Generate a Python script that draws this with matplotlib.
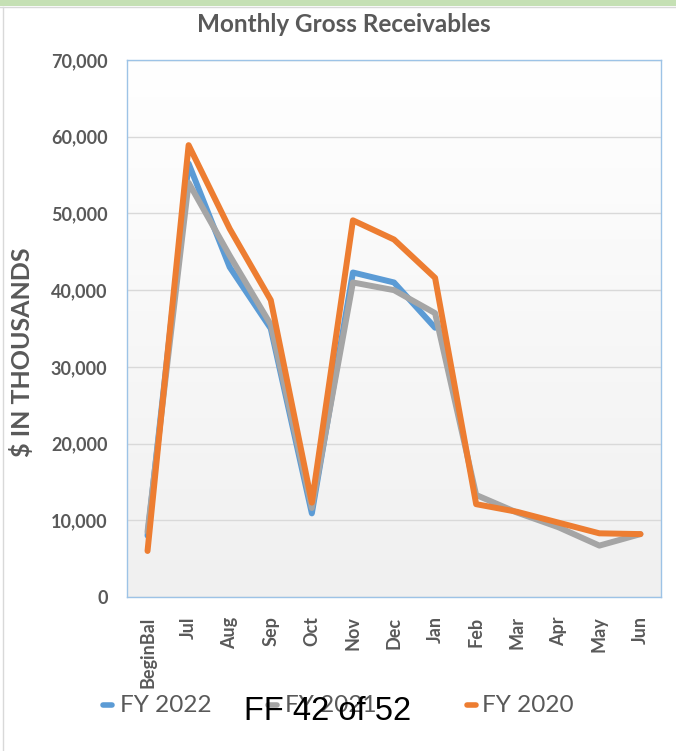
import numpy as np
import matplotlib
matplotlib.use("Agg")
import matplotlib.pyplot as plt
from matplotlib.lines import Line2D
from matplotlib.patches import Rectangle

months = ["BeginBal", "Jul", "Aug", "Sep", "Oct", "Nov", "Dec", "Jan",
          "Feb", "Mar", "Apr", "May", "Jun"]
fy2022 = [8000, 56500, 43000, 35000, 10900, 42300, 41000, 35100]
fy2021 = [8500, 54000, 44500, 35500, 11600, 41000, 40000, 37000,
          13300, 11000, 9100, 6700, 8200]
fy2020 = [6000, 58900, 48000, 38700, 12300, 49100, 46600, 41600,
          12100, 11100, 9700, 8300, 8200]
yticks = [0, 10000, 20000, 30000, 40000, 50000, 60000, 70000]

BLUE = "#5b9bd5"
GREY = "#a5a5a5"
ORANGE = "#ed7d31"
TXT = "#595959"
FONT = ["Lato", "DejaVu Sans"]

W, H = 676, 751
fig = plt.figure(figsize=(W / 100, H / 100), dpi=100)
fig.patch.set_facecolor("white")

# top green strip and light border
fig.add_artist(Rectangle((0, 1 - 6 / H), 1, 6 / H, transform=fig.transFigure,
                         facecolor="#c5e0b4", edgecolor="none"))
fig.add_artist(Line2D([0, 1], [1 - 7 / H] * 2, transform=fig.transFigure,
                      color="#d9d9d9", lw=1))
fig.add_artist(Line2D([3 / W] * 2, [0, 1 - 7 / H], transform=fig.transFigure,
                      color="#d9d9d9", lw=1))

ax = fig.add_axes([127 / W, 1 - 597 / H, (661 - 127) / W, (597 - 60) / H])
ax.set_facecolor("none")

# gradient background
grad = np.linspace(1, 0, 256).reshape(-1, 1)
c_top = np.array([1.0, 1.0, 1.0])
c_bot = np.array([0xf0, 0xf0, 0xf0]) / 255.0
img = c_bot + (c_top - c_bot) * grad[..., None]
img = np.repeat(img, 2, axis=1)
ax.imshow(img, extent=[0, 1, 0, 1], transform=ax.transAxes, aspect="auto",
          zorder=0, interpolation="bilinear")

x = np.arange(len(months))
lw = 4.3
ax.plot(x[:len(fy2022)], fy2022, color=BLUE, lw=lw, zorder=3,
        solid_joinstyle="round", solid_capstyle="round")
ax.plot(x, fy2021, color=GREY, lw=lw, zorder=4,
        solid_joinstyle="round", solid_capstyle="round")
ax.plot(x, fy2020, color=ORANGE, lw=lw, zorder=5,
        solid_joinstyle="round", solid_capstyle="round")

ax.set_xlim(-0.5, len(months) - 0.5)
ax.set_ylim(0, 70000)
ax.set_yticks(yticks)
ax.set_yticklabels([f"{v:,}" for v in yticks], fontsize=13, fontweight="bold",
                   color=TXT, family=FONT)
ax.set_xticks(x)
ax.set_xticklabels(months, rotation=90, fontsize=13, fontweight="bold",
                   color=TXT, family=FONT, va="top")
ax.tick_params(axis="both", length=0)
ax.tick_params(axis="y", pad=14)
ax.tick_params(axis="x", pad=14)
ax.grid(axis="y", color="#d9d9d9", lw=1, zorder=1)
ax.set_axisbelow(True)
for s in ax.spines.values():
    s.set_color("#9dc3e6")
    s.set_linewidth(1)

fig.text(22 / W, 1 - 352 / H, "$ IN THOUSANDS", rotation=90, ha="center",
         va="center", fontsize=18, fontweight="bold", color=TXT, family=FONT)

fig.text(344 / W, 1 - 25 / H, "Monthly Gross Receivables", ha="center",
         va="center", fontsize=17.5, fontweight="bold", color=TXT, family=FONT)

# legend
entries = [("FY 2022", BLUE, 103, 120), ("FY 2021", GREY, 268, 285),
           ("FY 2020", ORANGE, 467, 482)]
ly = 1 - 705 / H
for lab, col, hx, tx in entries:
    fig.add_artist(Line2D([hx / W, (hx + 9) / W], [ly, ly],
                          transform=fig.transFigure, color=col, lw=4,
                          solid_capstyle="round"))
    fig.text(tx / W, ly, lab, ha="left", va="center", fontsize=17.5,
             color=TXT, family=FONT)

fig.text(328 / W, 1 - 712 / H, "FF 42 of 52", ha="center", va="center",
         fontsize=23.5, color="black", family=["Liberation Sans", "DejaVu Sans"])

fig.savefig("out.png", dpi=100)
